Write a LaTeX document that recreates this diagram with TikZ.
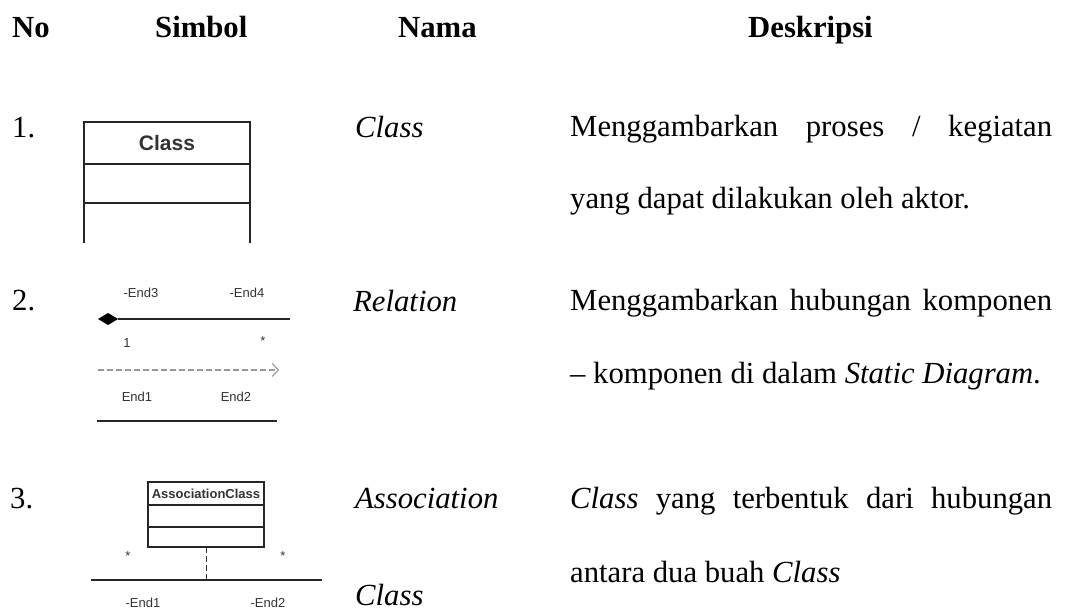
\documentclass[tikz,border=0pt]{standalone}
\usepackage{fontspec}
\setmainfont{Liberation Serif}
\setsansfont{Liberation Sans}
\usetikzlibrary{arrows.meta}
\tikzset{
  body/.style={font=\fontsize{30.7}{36}\selectfont, anchor=base west, inner sep=0pt},
  head/.style={font=\fontsize{30.7}{36}\selectfont\bfseries, anchor=base west, inner sep=0pt},
  uml/.style={font=\sffamily\fontsize{13}{15}\selectfont, text=black!80, inner sep=0pt},
  umltitle/.style={font=\sffamily\bfseries\fontsize{21}{24}\selectfont, text=black!80, inner sep=0pt},
  umlsmalltitle/.style={font=\sffamily\bfseries\fontsize{13}{15}\selectfont, text=black!80, inner sep=0pt},
  bigbox/.style={draw=black!85, line width=1.8pt},
  smallbox/.style={draw=black!85, line width=1.3pt},
  relline/.style={draw=black!85, line width=1.2pt},
  deparrow/.style={draw=black!40, line width=1.1pt, dash pattern=on 6pt off 3pt, -{Straight Barb[length=6pt,width=13pt]}},
  assocdash/.style={draw=black!80, line width=1pt, dash pattern=on 6pt off 3pt}
}
\begin{document}
\begin{tikzpicture}[x=1pt,y=-1pt]
\useasboundingbox (0,0) rectangle (1078,612);
% header
\node[head] (hNo) at (12,38) {No};
\node[head] (hSim) at (155,38) {Simbol};
\node[head] (hNama) at (398,38) {Nama};
\node[head] (hDesk) at (748,38) {Deskripsi};

% row 1
\node[body] (n1) at (12,138) {1.};
\draw[bigbox] (84,243) -- (84,122) -- (250,122) -- (250,243);
\draw[bigbox] (84,164) -- (250,164);
\draw[bigbox] (84,203) -- (250,203);
\node[umltitle] (c1) at (167,143) {Class};
\node[body] (nm1) at (355,138) {\itshape Class};
\node[body] (d1a) at (570,137) {\hbox to 482pt{Menggambarkan\hfill proses\hfill /\hfill kegiatan}};
\node[body] (d1b) at (570,209) {yang dapat dilakukan oleh aktor.};

% row 2
\node[body] (n2) at (12,310) {2.};
\node[uml] (e3) at (141,293) {-End3};
\node[uml] (e4) at (247,293) {-End4};
\coordinate (dl) at (98,319);
\coordinate (dr) at (118,319);
\coordinate (r1) at (290,319);
\fill[black] (dl) -- (108,313) -- (dr) -- (108,325) -- cycle;
\draw[relline] (dr) -- (r1);
\node[uml] (m1) at (127,343) {1};
\node[uml] (m2) at (263,341) {*};
\coordinate (a0) at (98,370);
\coordinate (a1) at (279,370);
\draw[deparrow] (a0) -- (a1);
\node[uml] (e1) at (137,397) {End1};
\node[uml] (e2) at (236,397) {End2};
\coordinate (b0) at (97,421);
\coordinate (b1) at (277,421);
\draw[relline] (b0) -- (b1);
\node[body] (nm2) at (353,311) {\itshape Relation};
\node[body] (d2a) at (570,310) {\hbox to 482pt{Menggambarkan\hfill hubungan\hfill komponen}};
\node[body] (d2b) at (570,383) {– komponen di dalam \textit{Static Diagram}.};

% row 3
\node[body] (n3) at (10,508) {3.};
\draw[smallbox] (148,482) rectangle (264,547);
\draw[smallbox] (148,505) -- (264,505);
\draw[smallbox] (148,527) -- (264,527);
\node[umlsmalltitle] (ac) at (206,494) {AssociationClass};
\coordinate (acb) at (206,547);
\coordinate (acm) at (206,580);
\node[uml] (s1) at (128,556) {*};
\node[uml] (s2) at (283,556) {*};
\draw[assocdash] (acb) -- (acm);
\coordinate (l0) at (91,580);
\coordinate (l1) at (322,580);
\draw[relline] (l0) -- (l1);
\node[uml] (f1) at (143,603) {-End1};
\node[uml] (f2) at (268,603) {-End2};
\node[body] (nm3a) at (355,508) {\itshape Association};
\node[body] (nm3b) at (355,605) {\itshape Class};
\node[body] (d3a) at (570,508) {\hbox to 482pt{\textit{Class}\hfill yang\hfill terbentuk\hfill dari\hfill hubungan}};
\node[body] (d3b) at (570,582) {antara dua buah \textit{Class}};
\end{tikzpicture}
\end{document}
